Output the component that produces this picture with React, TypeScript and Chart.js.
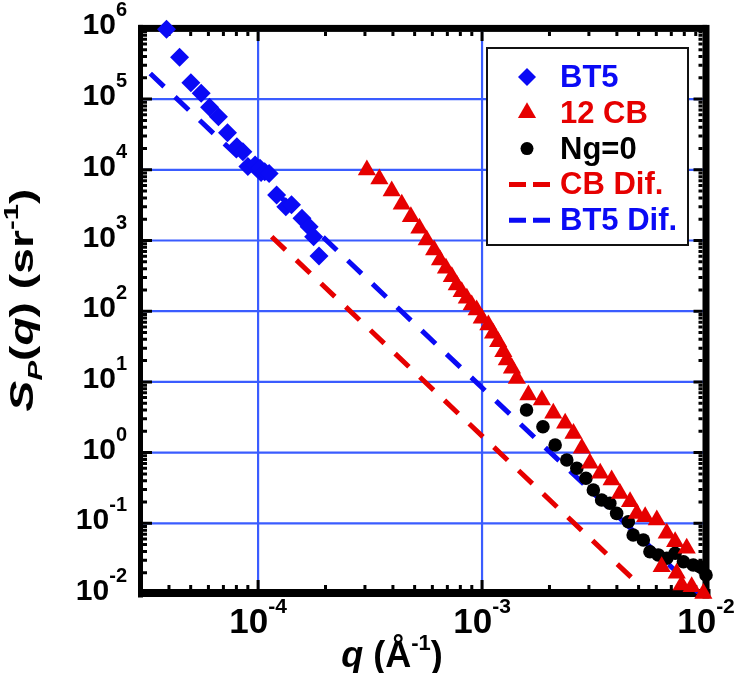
import React, { useEffect, useRef } from 'react';
import { Chart, registerables } from 'chart.js';

Chart.register(...registerables);

// ---- data ----
const bt5Q = [3.9e-5, 4.46e-5, 5.01e-5, 5.57e-5, 6.07e-5, 6.65e-5, 7.3e-5, 8.04e-5, 8.55e-5, 9.0e-5, 9.7e-5, 1.02e-4, 1.07e-4, 1.12e-4, 1.21e-4, 1.33e-4, 1.41e-4, 1.57e-4, 1.69e-4, 1.77e-4, 1.87e-4];
const bt5S = [9.7e5, 3.9e5, 1.71e5, 1.21e5, 7.66e4, 5.64e4, 3.35e4, 2.12e4, 1.8e4, 1.11e4, 1.17e4, 1.05e4, 9.4e3, 8.9e3, 4.4e3, 3.0e3, 3.2e3, 2.06e3, 1.57e3, 1.13e3, 604];

const cbQ = [3.06e-4, 3.48e-4, 3.95e-4, 4.38e-4, 4.81e-4, 5.25e-4, 5.66e-4, 6.11e-4, 6.49e-4, 6.9e-4, 7.33e-4, 7.71e-4, 8.11e-4, 8.55e-4, 8.99e-4, 9.46e-4, 9.97e-4, 1.067e-3, 1.12e-3, 1.18e-3, 1.245e-3, 1.29e-3, 1.36e-3, 1.43e-3, 1.61e-3, 1.85e-3, 2.08e-3, 2.35e-3, 2.56e-3, 2.79e-3, 3.03e-3, 3.37e-3, 3.79e-3, 4.13e-3, 4.58e-3, 4.91e-3, 5.35e-3, 6.03e-3, 6.34e-3, 6.68e-3, 7.28e-3, 7.4e-3, 7.78e-3, 8.2e-3, 8.63e-3, 9.73e-3];
const cbS = [9.93e3, 7.41e3, 5.01e3, 3.25e3, 2.17e3, 1.49e3, 1.02e3, 734, 530, 404, 308, 235, 189, 152, 122, 104, 79.4, 63.8, 48.7, 37.0, 26.7, 20.4, 15.6, 11.2, 6.53, 5.55, 3.6, 2.6, 1.87, 1.15, 0.707, 0.509, 0.409, 0.265, 0.202, 0.138, 0.124, 0.111, 0.0243, 0.0723, 0.055, 0.0196, 0.0134, 0.0443, 0.0127, 0.0102];

const ngQ = [1.58e-3, 1.87e-3, 2.12e-3, 2.39e-3, 2.65e-3, 2.91e-3, 3.14e-3, 3.42e-3, 3.72e-3, 3.99e-3, 4.5e-3, 4.73e-3, 5.25e-3, 5.62e-3, 6.12e-3, 6.68e-3, 7.28e-3, 7.93e-3, 8.77e-3, 9.4e-3, 1.0e-2];
const ngS = [4.0, 2.32, 1.28, 0.785, 0.6, 0.433, 0.296, 0.214, 0.192, 0.138, 0.105, 0.0684, 0.058, 0.0396, 0.0357, 0.032, 0.0377, 0.0286, 0.0257, 0.0243, 0.0186];

const cbDifQ = [1.15e-4, 4.9e-3];
const cbDifS = [1130, 0.0146];

const bt5DifQ = [3.3e-5, 9.3e-3];
const bt5DifS = [2.3e5, 0.0103];

const seriesLabels = ['BT5', '12 CB', 'Ng=0', 'CB Dif.', 'BT5 Dif.'];

const xRange = [3e-5, 1e-2];
const yRange = [1e-2, 1e6];
const xTickExps = ['-4', '-3', '-2'];
const yTickExps = ['-2', '-1', '0', '1', '2', '3', '4', '5', '6'];

const BLUE = '#0a0af5';
const RED = '#e60000';
const GRID = '#3a5cff';
const FONT = '"Liberation Sans", Arial, sans-serif';

const toPts = (q: number[], s: number[]) => q.map((v, i) => ({ x: v, y: s[i] }));

type Part = { t: string; size: number; italic?: boolean; dy?: number };

function richWidth(ctx: CanvasRenderingContext2D, parts: Part[]) {
  let w = 0;
  for (const p of parts) {
    ctx.font = `${p.italic ? 'italic ' : ''}bold ${p.size}px ${FONT}`;
    w += ctx.measureText(p.t).width;
  }
  return w;
}

function drawRich(ctx: CanvasRenderingContext2D, parts: Part[], x: number, y: number, align: 'left' | 'center' | 'right') {
  const w = richWidth(ctx, parts);
  let cx = align === 'left' ? x : align === 'center' ? x - w / 2 : x - w;
  ctx.textAlign = 'left';
  ctx.textBaseline = 'alphabetic';
  for (const p of parts) {
    ctx.font = `${p.italic ? 'italic ' : ''}bold ${p.size}px ${FONT}`;
    ctx.fillText(p.t, cx, y + (p.dy || 0));
    cx += ctx.measureText(p.t).width;
  }
}

const decor = {
  id: 'decor',
  beforeDatasetsDraw(chart: any) {
    const { ctx, chartArea: a, scales } = chart;
    const xs = scales.x;
    const ys = scales.y;
    ctx.save();
    // grid
    ctx.strokeStyle = GRID;
    ctx.lineWidth = 2.2;
    for (const e of xTickExps) {
      const px = xs.getPixelForValue(Math.pow(10, Number(e)));
      if (px > a.left + 4 && px < a.right - 4) {
        ctx.beginPath();
        ctx.moveTo(px, a.top);
        ctx.lineTo(px, a.bottom);
        ctx.stroke();
      }
    }
    for (const e of yTickExps) {
      const py = ys.getPixelForValue(Math.pow(10, Number(e)));
      if (py > a.top + 4 && py < a.bottom - 4) {
        ctx.beginPath();
        ctx.moveTo(a.left, py);
        ctx.lineTo(a.right, py);
        ctx.stroke();
      }
    }
    // frame
    ctx.fillStyle = '#000';
    const wl = 5, wt = 7, wr = 7, wb = 8;
    ctx.fillRect(a.left - wl / 2 - 0.5, a.top - wt / 2, wl, a.bottom - a.top + wt);
    ctx.fillRect(a.right - wr / 2, a.top - wt / 2, wr, a.bottom - a.top + wb);
    ctx.fillRect(a.left - wl / 2, a.top - wt / 2, a.right - a.left + wr / 2, wt);
    ctx.fillRect(a.left - wl / 2, a.bottom - wb / 2 - 1, a.right - a.left + wr, wb);
    // ticks
    ctx.lineWidth = 3;
    ctx.strokeStyle = '#000';
    const minor = 4, major = 9;
    const lx = a.left + wl / 2 - 0.5, rx = a.right - wr / 2, ty = a.top + wt / 2, by = a.bottom + wb / 2 - 1 - wb;
    for (let d = -5; d <= -2; d++) {
      for (let m = 1; m <= 9; m++) {
        const v = m * Math.pow(10, d);
        if (v <= xRange[0] * 1.01 || v >= xRange[1] * 0.99) continue;
        const px = xs.getPixelForValue(v);
        const len = m === 1 ? major : minor;
        ctx.beginPath();
        ctx.moveTo(px, by);
        ctx.lineTo(px, by - len);
        ctx.moveTo(px, ty);
        ctx.lineTo(px, ty + len);
        ctx.stroke();
      }
    }
    for (let d = -2; d <= 5; d++) {
      for (let m = 1; m <= 9; m++) {
        const v = m * Math.pow(10, d);
        if (v <= yRange[0] * 1.01 || v >= yRange[1] * 0.99) continue;
        const py = ys.getPixelForValue(v);
        const len = m === 1 ? major : minor;
        ctx.beginPath();
        ctx.moveTo(lx, py);
        ctx.lineTo(lx + len, py);
        ctx.moveTo(rx, py);
        ctx.lineTo(rx - len, py);
        ctx.stroke();
      }
    }
    ctx.restore();
  },
  afterDatasetsDraw(chart: any) {
    const { ctx, chartArea: a, scales } = chart;
    const xs = scales.x;
    const ys = scales.y;
    ctx.save();
    ctx.fillStyle = '#000';
    // y tick labels
    for (const e of yTickExps) {
      const py = ys.getPixelForValue(Math.pow(10, Number(e)));
      drawRich(ctx, [{ t: '10', size: 30 }, { t: e, size: 20, dy: -18 }], 127, py + 6, 'right');
    }
    // x tick labels
    for (const e of xTickExps) {
      const px = xs.getPixelForValue(Math.pow(10, Number(e)));
      drawRich(ctx, [{ t: '10', size: 35 }, { t: e, size: 21, dy: -20 }], px, a.bottom + 39, 'center');
    }
    // x title
    drawRich(ctx, [
      { t: 'q', size: 36, italic: true },
      { t: ' (Å', size: 36 },
      { t: '-1', size: 22, dy: -17 },
      { t: ')', size: 36 },
    ], 392, 667, 'center');
    // y title (stretched along its length as in the reference)
    ctx.save();
    ctx.translate(33, 300);
    ctx.rotate(-Math.PI / 2);
    ctx.scale(1.4, 1);
    drawRich(ctx, [
      { t: 'S', size: 33, italic: true },
      { t: 'P', size: 21, italic: true, dy: 9 },
      { t: '(', size: 33 },
      { t: 'q', size: 33, italic: true },
      { t: ') (sr', size: 33 },
      { t: '-1', size: 21, dy: -15 },
      { t: ')', size: 33 },
    ], 0, 0, 'center');
    ctx.restore();

    // legend
    const bx = 487, bt = 48, bw = 201, bh = 197;
    ctx.fillStyle = '#fff';
    ctx.fillRect(bx, bt, bw, bh);
    ctx.strokeStyle = '#111';
    ctx.lineWidth = 2;
    ctx.strokeRect(bx, bt, bw, bh);
    const ds = chart.data.datasets;
    for (let i = 0; i < ds.length; i++) {
      const d = ds[i];
      const base = 87 + i * 35.8;
      const cy = base - 10;
      const mx = 527;
      const col = d.showLine ? d.borderColor : d.backgroundColor;
      ctx.fillStyle = col;
      ctx.strokeStyle = col;
      if (d.showLine) {
        ctx.lineWidth = 5;
        ctx.setLineDash([17, 7]);
        ctx.beginPath();
        ctx.moveTo(509, cy);
        ctx.lineTo(553, cy);
        ctx.stroke();
        ctx.setLineDash([]);
      } else if (d.pointStyle === 'rectRot') {
        const r = 9;
        ctx.beginPath();
        ctx.moveTo(mx - r, cy);
        ctx.lineTo(mx, cy - r);
        ctx.lineTo(mx + r, cy);
        ctx.lineTo(mx, cy + r);
        ctx.closePath();
        ctx.fill();
      } else if (d.pointStyle === 'triangle') {
        const r = 10.5;
        ctx.beginPath();
        ctx.moveTo(mx, cy - r);
        ctx.lineTo(mx + r * 0.866, cy + r * 0.5);
        ctx.lineTo(mx - r * 0.866, cy + r * 0.5);
        ctx.closePath();
        ctx.fill();
      } else {
        ctx.beginPath();
        ctx.arc(mx, cy, 6.5, 0, Math.PI * 2);
        ctx.fill();
      }
      ctx.fillStyle = col;
      drawRich(ctx, [{ t: d.label, size: 31 }], 560, base, 'left');
    }
    ctx.restore();
  },
};

export default function App() {
  const ref = useRef<HTMLCanvasElement | null>(null);
  useEffect(() => {
    if (!ref.current) return;
    const chart = new Chart(ref.current, {
      type: 'scatter',
      data: {
        datasets: [
          { label: seriesLabels[0], data: toPts(bt5Q, bt5S), pointStyle: 'rectRot', pointRadius: 9.5, backgroundColor: BLUE, borderColor: BLUE, borderWidth: 0, clip: false } as any,
          { label: seriesLabels[1], data: toPts(cbQ, cbS), pointStyle: 'triangle', pointRadius: 10.5, backgroundColor: RED, borderColor: RED, borderWidth: 0, clip: false } as any,
          { label: seriesLabels[2], data: toPts(ngQ, ngS), pointStyle: 'circle', pointRadius: 6.8, backgroundColor: '#000', borderColor: '#000', borderWidth: 0, clip: false } as any,
          { label: seriesLabels[3], data: toPts(cbDifQ, cbDifS), showLine: true, borderColor: RED, backgroundColor: RED, borderWidth: 5, borderDash: [19, 15], pointRadius: 0 } as any,
          { label: seriesLabels[4], data: toPts(bt5DifQ, bt5DifS), showLine: true, borderColor: BLUE, backgroundColor: BLUE, borderWidth: 5, borderDash: [19, 15], pointRadius: 0 } as any,
        ],
      },
      options: {
        responsive: false,
        animation: false,
        devicePixelRatio: 1,
        events: [],
        layout: { padding: { left: 141, right: 28, top: 28.4, bottom: 79 } },
        scales: {
          x: { type: 'logarithmic', min: xRange[0], max: xRange[1], display: false },
          y: { type: 'logarithmic', min: yRange[0], max: yRange[1], display: false },
        },
        plugins: { legend: { display: false }, tooltip: { enabled: false } },
      },
      plugins: [decor],
    });
    return () => chart.destroy();
  }, []);
  return (
    <canvas
      ref={ref}
      width={734}
      height={673}
      style={{ position: 'fixed', left: 0, top: 0, width: 734, height: 673, background: '#fff' }}
    />
  );
}
